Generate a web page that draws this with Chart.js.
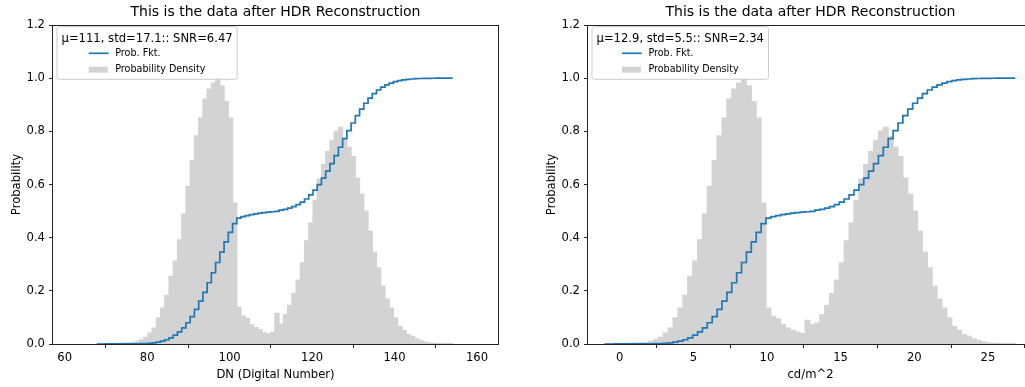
<!DOCTYPE html>
<html>
<head>
<meta charset="utf-8">
<script src="https://cdn.jsdelivr.net/npm/chart.js@4.4.0/dist/chart.umd.min.js"></script>
<style>
  html, body { margin: 0; padding: 0; background: #fff; overflow: hidden; }
  body { width: 1025px; height: 387px; position: relative; }
  canvas { position: absolute; top: 0; }
  #dnChart { left: 0; }
  #cdChart { left: 535px; }
</style>
</head>
<body>
<canvas id="dnChart" width="515" height="387"></canvas>
<canvas id="cdChart" width="515" height="387"></canvas>
<script>
// histogram bins (84 bins each)
const dnBinStart = 67.84;
const dnBinWidth = 1.027;
const cdBinStart = -1.02;
const cdBinWidth = 0.3319;

// normalised density per bin, DN histogram
const dnDensity = [
  0.0005, 0.001, 0.001, 0.0015, 0.002, 0.003, 0.004, 0.0045, 0.006, 0.01,
  0.016, 0.025, 0.041, 0.06, 0.098, 0.135, 0.183, 0.254, 0.312, 0.392,
  0.489, 0.593, 0.69, 0.783, 0.85, 0.921, 0.959, 0.981, 1.0, 0.971,
  0.912, 0.85, 0.53, 0.138, 0.105, 0.096, 0.072, 0.062, 0.054, 0.042,
  0.038, 0.044, 0.115, 0.075, 0.11, 0.145, 0.19, 0.24, 0.305, 0.388,
  0.455, 0.54, 0.62, 0.675, 0.724, 0.764, 0.8, 0.815, 0.77, 0.74,
  0.705, 0.624, 0.564, 0.5, 0.424, 0.345, 0.286, 0.217, 0.169, 0.135,
  0.098, 0.066, 0.051, 0.035, 0.029, 0.019, 0.0125, 0.0075, 0.004, 0.003,
  0.002, 0.001, 0.001, 0.0005
];

// normalised density per bin, cd/m^2 histogram
const cdDensity = [
  0.0005, 0.001, 0.001, 0.0015, 0.002, 0.003, 0.004, 0.0045, 0.006, 0.01,
  0.016, 0.025, 0.041, 0.06, 0.098, 0.135, 0.183, 0.254, 0.312, 0.392,
  0.489, 0.593, 0.69, 0.783, 0.85, 0.921, 0.959, 0.981, 1.0, 0.971,
  0.912, 0.85, 0.53, 0.135, 0.104, 0.094, 0.073, 0.06, 0.051, 0.044,
  0.039, 0.089, 0.073, 0.079, 0.11, 0.145, 0.19, 0.24, 0.305, 0.388,
  0.455, 0.54, 0.62, 0.675, 0.724, 0.764, 0.8, 0.815, 0.78, 0.74,
  0.705, 0.624, 0.564, 0.5, 0.424, 0.345, 0.286, 0.217, 0.169, 0.135,
  0.098, 0.066, 0.051, 0.035, 0.029, 0.019, 0.0125, 0.0075, 0.004, 0.003,
  0.002, 0.001, 0.001, 0.0005
];

// cumulative probability at each bin edge (85 edges)
const probFkt = [
  0,
  0.0000, 0.0001, 0.0001, 0.0002, 0.0002, 0.0004, 0.0005, 0.0007, 0.0009, 0.0013,
  0.0019, 0.0029, 0.0045, 0.0069, 0.0107, 0.016, 0.0232, 0.0332, 0.0454, 0.0608,
  0.0799, 0.1032, 0.1303, 0.161, 0.1943, 0.2304, 0.268, 0.3065, 0.3457, 0.3838,
  0.4196, 0.4529, 0.4737, 0.4791, 0.4832, 0.487, 0.4898, 0.4922, 0.4943, 0.496,
  0.4975, 0.4992, 0.5037, 0.5067, 0.511, 0.5167, 0.5241, 0.5335, 0.5455, 0.5607,
  0.5785, 0.5997, 0.624, 0.6505, 0.6789, 0.7088, 0.7402, 0.7722, 0.8024, 0.8314,
  0.859, 0.8835, 0.9056, 0.9252, 0.9419, 0.9554, 0.9666, 0.9751, 0.9817, 0.987,
  0.9909, 0.9935, 0.9955, 0.9968, 0.998, 0.9987, 0.9992, 0.9995, 0.9997, 0.9998,
  0.9999, 0.9999, 1.0, 1.0
];

const dnTicks = [60, 80, 100, 120, 140, 160];
const cdTicks = [0, 5, 10, 15, 20, 25];
const yTicks = [0, 0.2, 0.4, 0.6, 0.8, 1.0, 1.2];

const chartTitle = 'This is the data after HDR Reconstruction';
const dnLegendTitle = 'μ=111, std=17.1:: SNR=6.47';
const cdLegendTitle = 'μ=12.9, std=5.5:: SNR=2.34';

Chart.defaults.font.family = '"DejaVu Sans", sans-serif';
Chart.defaults.font.size = 11.6;
Chart.defaults.color = '#000';

const lineColor = '#1f77b4';
const barColor = '#d3d3d3';
const spineColor = '#222';

// spines on all four sides plus a matplotlib style legend in the top left corner
const histLegend = {
  id: 'histLegend',
  afterDatasetsDraw(chart, args, opts) {
    const { ctx, chartArea } = chart;
    ctx.save();
    ctx.strokeStyle = spineColor;
    ctx.lineWidth = 1;
    ctx.strokeRect(Math.round(chartArea.left) - 0.5, Math.round(chartArea.top) + 0.5,
      Math.round(chartArea.right - chartArea.left) + 1, Math.round(chartArea.bottom - chartArea.top));

    ctx.font = '11.6px "DejaVu Sans"';
    const titleW = ctx.measureText(opts.title).width;
    const x0 = chartArea.left + 4, y0 = chartArea.top + 1.7;
    const w = titleW + 9, h = 52.6;
    const r = 2.5;
    ctx.beginPath();
    ctx.moveTo(x0 + r, y0);
    ctx.arcTo(x0 + w, y0, x0 + w, y0 + h, r);
    ctx.arcTo(x0 + w, y0 + h, x0, y0 + h, r);
    ctx.arcTo(x0, y0 + h, x0, y0, r);
    ctx.arcTo(x0, y0, x0 + w, y0, r);
    ctx.closePath();
    ctx.fillStyle = 'rgba(255,255,255,0.8)';
    ctx.fill();
    ctx.strokeStyle = '#cccccc';
    ctx.stroke();

    ctx.fillStyle = '#000';
    ctx.textBaseline = 'middle';
    ctx.textAlign = 'left';
    ctx.fillText(opts.title, x0 + 4.5, y0 + 11.8);

    ctx.font = '9.6px "DejaVu Sans"';
    const labels = ['Prob. Fkt.', 'Probability Density'];
    const textW = Math.max(...labels.map(t => ctx.measureText(t).width));
    const blockW = 20 + 6.5 + textW;
    const bx = x0 + (w - blockW) / 2;
    const ly1 = y0 + 26.6, ly2 = y0 + 43;

    ctx.strokeStyle = lineColor;
    ctx.lineWidth = 1.7;
    ctx.beginPath();
    ctx.moveTo(bx, ly1);
    ctx.lineTo(bx + 20, ly1);
    ctx.stroke();
    ctx.fillStyle = barColor;
    ctx.fillRect(bx, ly2 - 3, 19, 6);

    ctx.fillStyle = '#000';
    ctx.fillText(labels[0], bx + 26.5, ly1);
    ctx.fillText(labels[1], bx + 26.5, ly2);
    ctx.restore();
  }
};

function makeChart(canvasId, density, binStart, binWidth, xTicks, xMin, xMax, xLabel, legendTitle) {
  const ctx = document.getElementById(canvasId).getContext('2d');
  const bars = density.map((d, i) => ({ x: binStart + (i + 0.5) * binWidth, y: d }));
  const steps = probFkt.map((p, i) => ({ x: binStart + i * binWidth, y: p }));

  return new Chart(ctx, {
    type: 'bar',
    data: {
      datasets: [
        {
          type: 'line',
          label: 'Prob. Fkt.',
          data: steps,
          stepped: true,
          borderColor: lineColor,
          borderWidth: 1.7,
          pointRadius: 0,
          fill: false,
          order: 0
        },
        {
          type: 'bar',
          label: 'Probability Density',
          data: bars,
          backgroundColor: barColor,
          borderWidth: 0,
          barPercentage: 1,
          categoryPercentage: 1,
          inflateAmount: 0.6,
          grouped: false,
          order: 1
        }
      ]
    },
    options: {
      responsive: false,
      animation: false,
      events: [],
      layout: { padding: { left: 0, right: 17, top: 0, bottom: 0 } },
      plugins: {
        legend: { display: false },
        tooltip: { enabled: false },
        title: {
          display: true,
          text: chartTitle,
          fullSize: false,
          color: '#000',
          font: { size: 14, weight: 'normal' },
          padding: { top: 4, bottom: 4.2 }
        },
        histLegend: { title: legendTitle }
      },
      scales: {
        x: {
          type: 'linear',
          min: xMin,
          max: xMax,
          offset: false,
          grid: { display: true, drawOnChartArea: false, tickLength: 4, color: spineColor },
          border: { display: false },
          ticks: { padding: 3, includeBounds: false, maxRotation: 0, callback: v => String(v) },
          afterBuildTicks: axis => { axis.ticks = xTicks.map(v => ({ value: v })); },
          afterFit: scale => { scale.height = 43; },
          title: { display: true, text: xLabel, padding: { top: 0, bottom: 5 } }
        },
        y: {
          min: 0,
          max: 1.2,
          grid: { display: true, drawOnChartArea: false, tickLength: 4, color: spineColor },
          border: { display: false },
          ticks: { padding: 4, callback: v => v.toFixed(1) },
          afterBuildTicks: axis => { axis.ticks = yTicks.map(v => ({ value: v })); },
          afterFit: scale => { scale.width = 53; },
          title: { display: true, text: 'Probability', padding: { top: 10, bottom: 0 } }
        }
      }
    },
    plugins: [histLegend]
  });
}

makeChart('dnChart', dnDensity, dnBinStart, dnBinWidth, dnTicks, 57.16, 165.09, 'DN (Digital Number)', dnLegendTitle);
makeChart('cdChart', cdDensity, cdBinStart, cdBinWidth, cdTicks, -2.15, 28.06, 'cd/m^2', cdLegendTitle);
</script>
</body>
</html>
